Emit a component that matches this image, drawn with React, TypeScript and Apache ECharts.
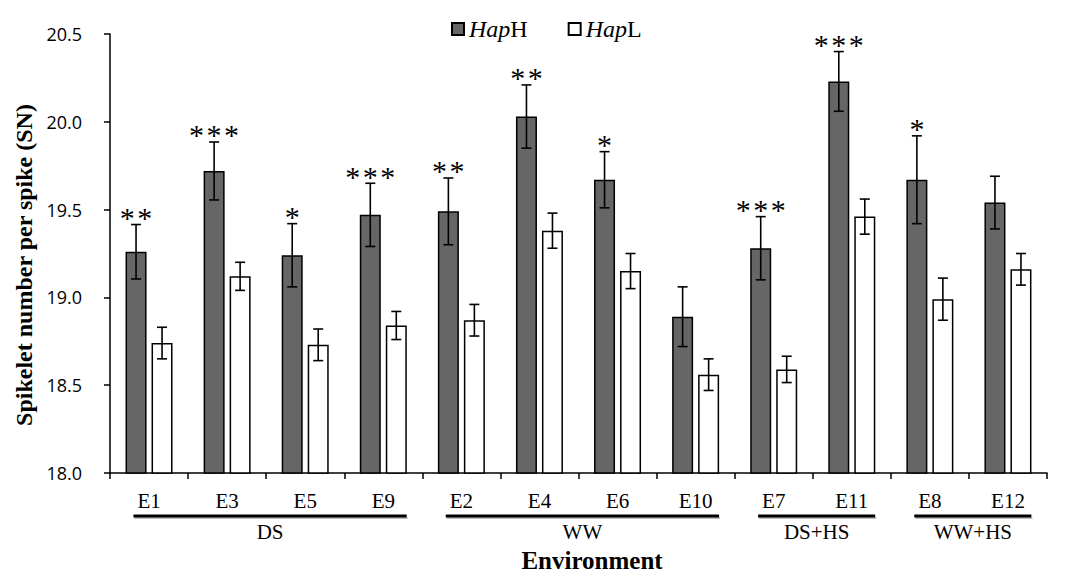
import React, { useEffect, useRef } from "react";
import * as echarts from "echarts";

const categories = ["E1", "E3", "E5", "E9", "E2", "E4", "E6", "E10", "E7", "E11", "E8", "E12"];
const hapH = [19.26, 19.72, 19.24, 19.47, 19.49, 20.03, 19.67, 18.89, 19.28, 20.23, 19.67, 19.54];
const hapHSE = [0.155, 0.165, 0.18, 0.18, 0.19, 0.18, 0.16, 0.17, 0.18, 0.17, 0.25, 0.15];
const hapL = [18.74, 19.12, 18.73, 18.84, 18.87, 19.38, 19.15, 18.56, 18.59, 19.46, 18.99, 19.16];
const hapLSE = [0.09, 0.08, 0.09, 0.08, 0.09, 0.1, 0.1, 0.09, 0.075, 0.1, 0.12, 0.09];
const stars = ["**", "***", "*", "***", "**", "**", "*", "", "***", "***", "*", ""];
const groupNames = ["DS", "WW", "DS+HS", "WW+HS"];
const groupStart = [0, 4, 8, 10];
const groupEnd = [3, 7, 9, 11];
const yTicks = [18.0, 18.5, 19.0, 19.5, 20.0, 20.5];

const SERIF = '"Liberation Serif", "Times New Roman", serif';
const SANS = '"Open Sans", "Liberation Sans", sans-serif';
const BAR_W = 21;
const BAR_GAP = 5;

function errorSeries(name: string, means: number[], ses: number[], side: number, withStars: boolean) {
  return {
    type: "custom",
    name: name + "-err",
    clip: false,
    z: 5,
    encode: { x: 0, y: 1 },
    data: means.map((m, i) => [i, m, ses[i]]),
    renderItem: (params: any, api: any) => {
      const i = api.value(0);
      const m = api.value(1);
      const se = api.value(2);
      const top = api.coord([i, m + se]);
      const bot = api.coord([i, m - se]);
      const x = top[0] + side * (BAR_W + BAR_GAP) / 2;
      const cap = 5;
      const st = { stroke: "#000", lineWidth: 1.6 };
      const children: any[] = [
        { type: "line", shape: { x1: x, y1: top[1], x2: x, y2: bot[1] }, style: st },
        { type: "line", shape: { x1: x - cap, y1: top[1], x2: x + cap, y2: top[1] }, style: st },
        { type: "line", shape: { x1: x - cap, y1: bot[1], x2: x + cap, y2: bot[1] }, style: st },
      ];
      const s = withStars ? stars[params.dataIndex] : "";
      if (s) {
        children.push({
          type: "text",
          style: {
            text: s.split("").join("\u200A"),
            x: x,
            y: top[1] - 7,
            align: "center",
            verticalAlign: "middle",
            fontSize: 30,
            fontFamily: SERIF,
            fill: "#000",
          },
        });
      }
      return { type: "group", children };
    },
  };
}

export default function App() {
  const ref = useRef<HTMLDivElement>(null);
  useEffect(() => {
    if (!ref.current) return;
    const chart = echarts.init(ref.current, undefined, { renderer: "svg" });
    const option: any = {
      animation: false,
      backgroundColor: "#fff",
      grid: { left: 110, right: 25, top: 34, bottom: 99 },
      legend: {
        data: ["HapH", "HapL"],
        left: 446,
        top: 12,
        icon: "rect",
        itemWidth: 12,
        itemHeight: 12,
        itemGap: 40,
        formatter: (n: string) => "{i|Hap}" + n.slice(3),
        textStyle: {
          fontFamily: SERIF,
          fontSize: 24,
          color: "#000",
          rich: { i: { fontStyle: "italic", fontFamily: SERIF, fontSize: 24, color: "#000" } },
        },
      },
      xAxis: {
        type: "category",
        data: categories,
        axisLine: { show: true, lineStyle: { color: "#000", width: 1.5 } },
        axisTick: { show: true, length: 6, lineStyle: { color: "#000", width: 1.5 } },
        axisLabel: { fontFamily: SERIF, fontSize: 21, color: "#000", margin: 17 },
      },
      yAxis: {
        type: "value",
        min: yTicks[0],
        max: yTicks[yTicks.length - 1],
        interval: 0.5,
        splitLine: { show: false },
        axisLine: { show: true, lineStyle: { color: "#000", width: 1.5 } },
        axisTick: { show: true, length: 6, lineStyle: { color: "#000", width: 1.5 } },
        axisLabel: {
          fontFamily: SANS,
          fontSize: 18,
          color: "#000",
          margin: 28,
          formatter: (v: number) => v.toFixed(1),
        },
      },
      series: [
        {
          type: "bar",
          name: "HapH",
          data: hapH,
          barWidth: BAR_W,
          barGap: (BAR_GAP / BAR_W) * 100 + "%",
          itemStyle: { color: "#666666", borderColor: "#000", borderWidth: 1.5 },
        },
        {
          type: "bar",
          name: "HapL",
          data: hapL,
          barWidth: BAR_W,
          itemStyle: { color: "#ffffff", borderColor: "#000", borderWidth: 1.5 },
        },
        errorSeries("HapH", hapH, hapHSE, -1, true),
        errorSeries("HapL", hapL, hapLSE, 1, false),
        {
          type: "custom",
          name: "groups",
          clip: false,
          silent: true,
          z: 10,
          encode: { x: 0, y: 1 },
          data: groupNames.map((g, i) => [groupStart[i], groupEnd[i]]),
          renderItem: (params: any, api: any) => {
            const s = api.value(0);
            const e = api.value(1);
            const p1 = api.coord([s, yTicks[0]]);
            const p2 = api.coord([e, yTicks[0]]);
            const band = api.size([1, 0])[0];
            const xa = p1[0] - band * 0.2;
            const xb = p2[0] + band * 0.3;
            const y = p1[1] + 43;
            return {
              type: "group",
              children: [
                {
                  type: "rect",
                  shape: { x: xa + 1, y: y + 1, width: xb - xa, height: 2 },
                  style: { fill: "rgba(0,0,0,0.25)" },
                },
                {
                  type: "rect",
                  shape: { x: xa, y: y - 1.5, width: xb - xa, height: 3 },
                  style: { fill: "#000" },
                },
                {
                  type: "text",
                  style: {
                    text: groupNames[params.dataIndex],
                    x: (xa + xb) / 2,
                    y: y + 16,
                    align: "center",
                    verticalAlign: "middle",
                    fontSize: 21,
                    fontFamily: SERIF,
                    fill: "#000",
                  },
                },
              ],
            };
          },
        },
      ],
      graphic: [
        {
          type: "text",
          x: 24,
          y: 265,
          rotation: Math.PI / 2,
          style: {
            text: "Spikelet number per spike (SN)",
            align: "center",
            verticalAlign: "middle",
            fontSize: 24,
            fontWeight: "bold",
            fontFamily: SERIF,
            fill: "#000",
          },
        },
        {
          type: "text",
          x: 592,
          y: 560,
          style: {
            text: "Environment",
            align: "center",
            verticalAlign: "middle",
            fontSize: 25,
            fontWeight: "bold",
            fontFamily: SERIF,
            fill: "#000",
          },
        },
      ],
    };
    chart.setOption(option);
    return () => chart.dispose();
  }, []);
  return <div ref={ref} style={{ width: 1072, height: 572, position: "absolute", left: 0, top: 0 }} />;
}
